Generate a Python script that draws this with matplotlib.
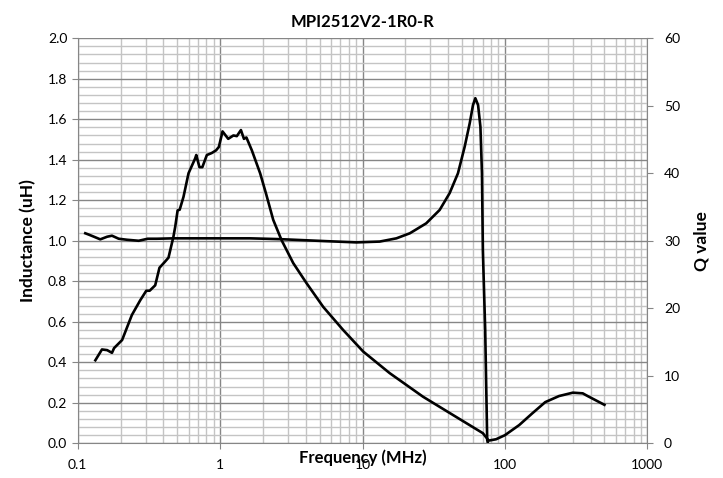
import matplotlib
matplotlib.use("Agg")
import matplotlib.pyplot as plt
from matplotlib.ticker import LogLocator, MultipleLocator, FixedLocator, NullFormatter, FixedFormatter, FormatStrFormatter

plt.rcParams['font.family'] = ['Lato', 'DejaVu Sans']

title = "MPI2512V2-1R0-R"

# Inductance (uH) vs frequency (MHz)
L_freq = [0.113, 0.12, 0.13, 0.144, 0.161, 0.174, 0.194, 0.222, 0.268, 0.31, 0.36, 0.47,
          1.0, 1.62, 2.63, 5.6, 9.06, 13.2, 17.3, 21.5, 28.0, 34.8, 40.9, 46.8, 52.2,
          56.6, 59.7, 62.0, 64.8, 67.3, 69.0, 70.0, 72.7, 75.1, 76.0]
L_val = [1.037, 1.03, 1.02, 1.007, 1.02, 1.025, 1.01, 1.005, 1.0, 1.01, 1.01, 1.012,
         1.012, 1.012, 1.008, 0.998, 0.992, 0.996, 1.012, 1.037, 1.086, 1.152, 1.235, 1.333, 1.465,
         1.58, 1.67, 1.704, 1.67, 1.563, 1.333, 0.955, 0.56, 0.016, 0.0]

# Q value vs frequency (MHz)
Q_freq = [0.133, 0.148, 0.161, 0.174, 0.18, 0.205, 0.24, 0.275, 0.303, 0.32, 0.35, 0.375,
          0.41, 0.434, 0.47, 0.484, 0.503, 0.52, 0.553, 0.6, 0.668, 0.68, 0.716, 0.75,
          0.807, 0.874, 0.937, 0.98, 1.04, 1.14, 1.24, 1.31, 1.40, 1.47, 1.53, 1.67,
          1.91, 2.1, 2.36, 2.7, 3.26, 4.05, 5.3, 7.3, 10.1, 15.5, 26.6, 45.5, 70.0,
          77.0, 86.7, 100, 126, 155, 192, 240, 300, 352, 381, 500]
Q_val = [12.3, 13.9, 13.8, 13.4, 14.1, 15.3, 19.0, 21.2, 22.6, 22.6, 23.4, 26.0,
         26.9, 27.5, 30.6, 32.1, 34.5, 34.6, 36.5, 40.0, 42.2, 42.7, 40.9, 40.9,
         42.7, 43.0, 43.4, 43.9, 46.2, 45.1, 45.6, 45.5, 46.4, 45.1, 45.3, 43.4,
         40.0, 37.0, 33.1, 30.1, 26.7, 23.7, 20.2, 16.8, 13.6, 10.4, 6.9, 3.9, 1.5,
         0.4, 0.6, 1.2, 2.7, 4.4, 6.1, 7.0, 7.5, 7.4, 7.0, 5.7]

x_ticks = [0.1, 1, 10, 100, 1000]
x_tick_labels = ["0.1", "1", "10", "100", "1000"]

fig = plt.figure(figsize=(7.23, 4.78), dpi=100)
ax = fig.add_axes([0.1075, 0.0726, 0.7878, 0.8474])
ax2 = ax.twinx()

major_c = '#868686'
minor_c = '#c4c4c4'

ax.set_xscale('log')
ax.set_xlim(0.1, 1000)
ax.set_ylim(0, 2.0)
ax2.set_ylim(0, 60)

ax.xaxis.set_major_locator(FixedLocator(x_ticks))
ax.xaxis.set_major_formatter(FixedFormatter(x_tick_labels))
ax.xaxis.set_minor_locator(LogLocator(base=10, subs=range(2, 10)))
ax.xaxis.set_minor_formatter(NullFormatter())
ax.yaxis.set_major_locator(MultipleLocator(0.2))
ax.yaxis.set_minor_locator(MultipleLocator(0.04))
ax.yaxis.set_major_formatter(FormatStrFormatter('%.1f'))
ax2.yaxis.set_major_locator(MultipleLocator(10))

ax.grid(which='minor', color=minor_c, linewidth=1.0, zorder=0)
ax.grid(which='major', color=major_c, linewidth=1.0, zorder=0)
ax.set_axisbelow(True)

for a in (ax, ax2):
    for s in a.spines.values():
        s.set_visible(False)
ax.spines['left'].set_visible(True)
ax.spines['left'].set_color(major_c)
ax.spines['bottom'].set_visible(True)
ax.spines['bottom'].set_color(major_c)
ax2.spines['right'].set_visible(True)
ax2.spines['right'].set_color(major_c)

ax.tick_params(which='major', length=4, color=major_c, labelsize=10, labelcolor='black')
ax.tick_params(which='minor', length=0)
ax2.tick_params(which='major', length=4, color=major_c, labelsize=10, labelcolor='black', pad=8)
ax2.tick_params(which='minor', length=0)
ax.tick_params(axis='x', pad=7)

ax.plot(L_freq, L_val, color='black', linewidth=1.9, zorder=3)
ax2.plot(Q_freq, Q_val, color='black', linewidth=1.9, zorder=3)

ax.set_title(title, fontsize=12, fontweight='bold', pad=8)
ax.set_xlabel("Frequency (MHz)", fontsize=12, fontweight='bold', labelpad=-15)
ax.set_ylabel("Inductance (uH)", fontsize=12.5, fontweight='bold', labelpad=8)
ax2.set_ylabel("Q value", fontsize=12.5, fontweight='bold', labelpad=10)

fig.savefig("out.png", dpi=100)
